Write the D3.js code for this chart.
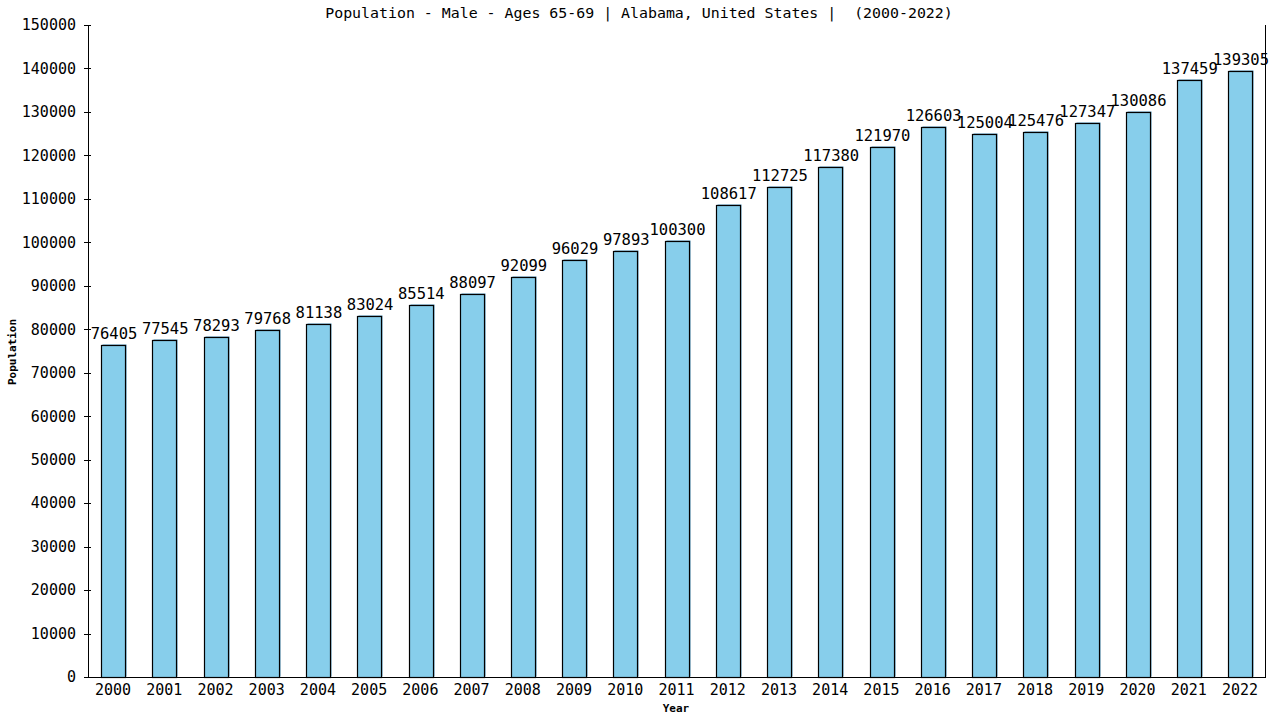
<!DOCTYPE html>
<html>
<head>
<meta charset="utf-8">
<script src="https://cdn.jsdelivr.net/npm/d3@7"></script>
<style>
    body { margin: 0; background: #fff; }
    text { font-family: "DejaVu Sans Mono", monospace; fill: #000; }
    .axis path, .axis line { stroke: #000; shape-rendering: crispEdges; }
</style>
</head>
<body>
<script>
(function(){

    //chart data
    var years = ["2000", "2001", "2002", "2003", "2004", "2005", "2006", "2007", "2008", "2009", "2010", "2011",
                 "2012", "2013", "2014", "2015", "2016", "2017", "2018", "2019", "2020", "2021", "2022"];
    var population = [76405, 77545, 78293, 79768, 81138, 83024, 85514, 88097, 92099, 96029, 97893, 100300,
                      108617, 112725, 117380, 121970, 126603, 125004, 125476, 127347, 130086, 137459, 139305];
    var yTicks = [0, 10000, 20000, 30000, 40000, 50000, 60000, 70000, 80000, 90000, 100000,
                  110000, 120000, 130000, 140000, 150000];

    window.onload = setChart();

    function setChart(){
        var width = 1280,
            height = 720,
            left = 88,
            right = 1265,
            top = 25,
            bottom = 677;

        var svg = d3.select("body")
            .append("svg")
            .attr("width", width)
            .attr("height", height);

        var xScale = d3.scaleBand()
            .domain(years)
            .range([left, right])
            .paddingInner(0.54)
            .paddingOuter(0.258);

        var yScale = d3.scaleLinear()
            .domain([0, 150000])
            .range([bottom, top]);

        //bar shadow on top/right edge
        svg.selectAll(".shadow")
            .data(population)
            .enter()
            .append("rect")
            .attr("class", "shadow")
            .attr("x", function(d, i){ return Math.round(xScale(years[i])) + 1.5; })
            .attr("y", function(d){ return Math.round(yScale(d)) - 0.5; })
            .attr("width", Math.round(xScale.bandwidth()))
            .attr("height", function(d){ return bottom - Math.round(yScale(d)); })
            .style("fill", "#4a8fb8");

        //bars
        svg.selectAll(".bars")
            .data(population)
            .enter()
            .append("rect")
            .attr("class", "bars")
            .attr("x", function(d, i){ return Math.round(xScale(years[i])) + 0.5; })
            .attr("y", function(d){ return Math.round(yScale(d)) + 0.5; })
            .attr("width", Math.round(xScale.bandwidth()))
            .attr("height", function(d){ return bottom - Math.round(yScale(d)); })
            .style("fill", "#87ceeb")
            .style("stroke", "#000")
            .style("stroke-width", 1.2);

        //value labels
        svg.selectAll(".numbers")
            .data(population)
            .enter()
            .append("text")
            .attr("class", "numbers")
            .attr("text-anchor", "middle")
            .attr("font-size", "15.5px")
            .attr("x", function(d, i){ return xScale(years[i]) + xScale.bandwidth() / 2 + 1; })
            .attr("y", function(d){ return yScale(d) - 6; })
            .text(function(d){ return d; });

        //y axis
        var yAxis = svg.append("g")
            .attr("class", "axis")
            .attr("transform", "translate(" + left + ",0)")
            .call(d3.axisLeft(yScale).tickValues(yTicks).tickSize(4).tickSizeOuter(0).tickPadding(8)
                .tickFormat(d3.format("d")));
        yAxis.selectAll("text").attr("font-size", "15px").style("font-family", "DejaVu Sans Mono, monospace");
        yAxis.selectAll(".tick line").attr("x2", -4).attr("x1", 3);

        //x axis
        var xAxis = svg.append("g")
            .attr("class", "axis")
            .attr("transform", "translate(0," + bottom + ")")
            .call(d3.axisBottom(xScale).tickSize(0).tickPadding(7));
        xAxis.select(".domain").attr("d", "M" + left + ",0.5H" + (right + 1));
        xAxis.selectAll("text").attr("font-size", "15px").style("font-family", "DejaVu Sans Mono, monospace");

        //right frame line
        svg.append("line")
            .attr("x1", right + 0.5).attr("x2", right + 0.5)
            .attr("y1", top).attr("y2", bottom)
            .style("stroke", "#000");

        //title
        svg.append("text")
            .attr("x", 639)
            .attr("y", 18)
            .attr("text-anchor", "middle")
            .attr("font-size", "14.9px")
            .style("white-space", "pre")
            .text("Population - Male - Ages 65-69 | Alabama, United States |  (2000-2022)");

        //axis titles
        svg.append("text")
            .attr("x", 676)
            .attr("y", 712)
            .attr("text-anchor", "middle")
            .attr("font-size", "11px")
            .attr("font-weight", "bold")
            .text("Year");

        svg.append("text")
            .attr("transform", "translate(16,352) rotate(-90)")
            .attr("text-anchor", "middle")
            .attr("font-size", "11px")
            .attr("font-weight", "bold")
            .text("Population");
    };

})();
</script>
</body>
</html>
